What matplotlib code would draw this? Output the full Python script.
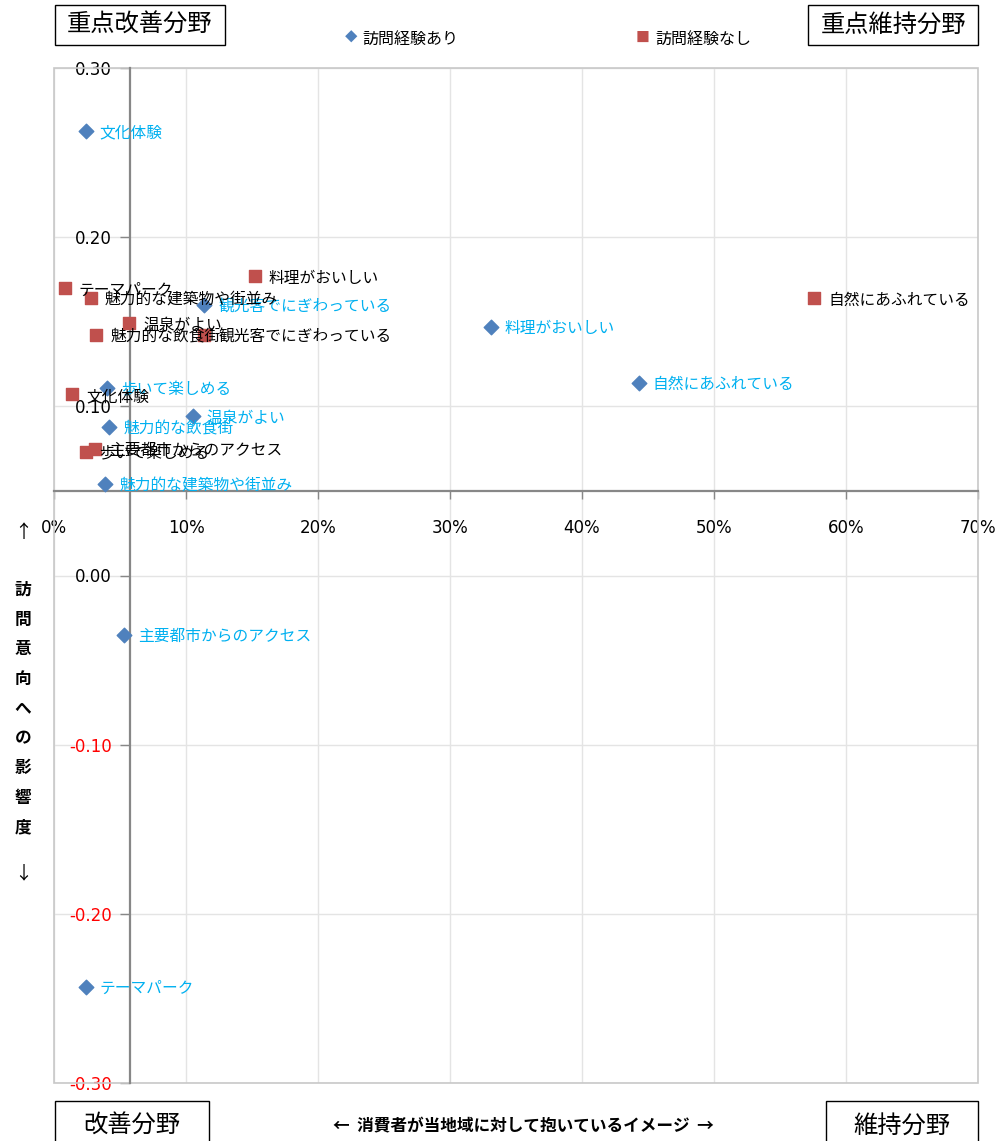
import matplotlib
matplotlib.use("Agg")
import matplotlib.pyplot as plt
from matplotlib.patches import Rectangle
from matplotlib.ticker import FuncFormatter, MultipleLocator

plt.rcParams["font.family"] = ["Noto Sans CJK JP", "DejaVu Sans"]

# ── データ ──
labels_visit = ["文化体験", "観光客でにぎわっている", "料理がおいしい", "自然にあふれている",
                "歩いて楽しめる", "温泉がよい", "魅力的な飲食街", "魅力的な建築物や街並み",
                "主要都市からのアクセス", "テーマパーク"]
x_visit = [0.024, 0.114, 0.331, 0.443, 0.040, 0.105, 0.042, 0.039, 0.053, 0.024]
y_visit = [0.263, 0.160, 0.147, 0.114, 0.111, 0.094, 0.088, 0.054, -0.035, -0.243]

labels_novisit = ["テーマパーク", "魅力的な建築物や街並み", "料理がおいしい", "自然にあふれている",
                  "温泉がよい", "魅力的な飲食街", "観光客でにぎわっている", "文化体験",
                  "歩いて楽しめる", "主要都市からのアクセス"]
x_novisit = [0.008, 0.028, 0.152, 0.576, 0.057, 0.032, 0.114, 0.014, 0.024, 0.031]
y_novisit = [0.170, 0.164, 0.177, 0.164, 0.149, 0.142, 0.142, 0.107, 0.073, 0.075]

series_names = ["訪問経験あり", "訪問経験なし"]
x_cross = 0.0576   # 縦軸の交差位置
y_cross = 0.05     # 横軸の交差位置

BLUE = "#4F81BD"; RED = "#C0504D"; LBLUE = "#00B0F0"

W, H = 1002, 1141
fig = plt.figure(figsize=(W/100, H/100), dpi=100)
ax = fig.add_axes([54/W, 1-1083/H, (978-54)/W, (1083-68)/H])
ax.set_xlim(0, 0.7); ax.set_ylim(-0.3, 0.3)

ax.xaxis.set_major_locator(MultipleLocator(0.1))
ax.yaxis.set_major_locator(MultipleLocator(0.1))
ax.grid(color="#e4e4e4", lw=1.0, zorder=0)
ax.set_axisbelow(True)

# 外枠(薄灰) + 交差軸
ax.add_patch(Rectangle((0, 0), 1, 1, transform=ax.transAxes, fill=False,
                       ec="#c8c8c8", lw=1.2, zorder=1, clip_on=False))
ax.spines["top"].set_visible(False); ax.spines["right"].set_visible(False)
ax.spines["left"].set_position(("data", x_cross))
ax.spines["bottom"].set_position(("data", y_cross))
for s in ("left", "bottom"):
    ax.spines[s].set_color("#878787"); ax.spines[s].set_linewidth(1.6); ax.spines[s].set_zorder(2)

ax.xaxis.set_major_formatter(FuncFormatter(lambda v, p: f"{v*100:.0f}%"))
ax.yaxis.set_major_formatter(FuncFormatter(lambda v, p: f"{v:.2f}" if abs(v) > 1e-9 else "0.00"))
ax.tick_params(axis="x", length=6, width=1, color="#878787", pad=14, labelsize=12)
ax.tick_params(axis="y", length=7, width=1, color="#878787", pad=6, labelsize=12)
for t in ax.get_xticklabels() + ax.get_yticklabels():
    t.set_fontfamily("DejaVu Sans")

ax.scatter(x_visit, y_visit, marker="D", s=55, color=BLUE, zorder=4, clip_on=False)
ax.scatter(x_novisit, y_novisit, marker="s", s=75, color=RED, zorder=4, clip_on=False)

for lab, xv, yv in zip(labels_visit, x_visit, y_visit):
    ax.annotate(lab, (xv, yv), xytext=(10, -1.5), textcoords="offset points",
                va="center", ha="left", fontsize=11.3, color=LBLUE, zorder=5)
for lab, xv, yv in zip(labels_novisit, x_novisit, y_novisit):
    ax.annotate(lab, (xv, yv), xytext=(10, -1.5), textcoords="offset points",
                va="center", ha="left", fontsize=11.3, color="black", zorder=5)

fig.canvas.draw()
for t, v in zip(ax.get_yticklabels(), ax.get_yticks()):
    t.set_color("red" if v < -1e-9 else "black")
    t.set_fontfamily("DejaVu Sans")
for t in ax.get_xticklabels():
    t.set_fontfamily("DejaVu Sans")

# ── 象限ボックス ──
def box(x0, y0, x1, y1, text):
    fig.patches.append(Rectangle((x0/W, 1-y1/H), (x1-x0)/W, (y1-y0)/H, transform=fig.transFigure,
                                 fill=True, fc="white", ec="black", lw=1.0))
    fig.text((x0+x1)/2/W, 1-((y0+y1)/2)/H, text, ha="center", va="center", fontsize=17.5)

box(55, 5, 225, 45, "重点改善分野")
box(808, 5, 978, 45, "重点維持分野")
box(55, 1101, 209, 1150, "改善分野")
box(826, 1101, 978, 1150, "維持分野")

# ── 凡例 ──
fig.text(351/W, 1-38/H, "◆", color=BLUE, ha="center", va="center", fontsize=9)
fig.text(362/W, 1-39/H, series_names[0], ha="left", va="center", fontsize=11.5)
fig.text(643/W, 1-38/H, "■", color=RED, ha="center", va="center", fontsize=10)
fig.text(655/W, 1-39/H, series_names[1], ha="left", va="center", fontsize=11.5)

# ── 軸ラベル ──
fig.text(23/W, 1-533/H, "↑", ha="center", va="center", fontsize=13)
for i, ch in enumerate("訪問意向への影響度"):
    fig.text(23/W, 1-(590+i*29.7)/H, ch, ha="center", va="center", fontsize=12, fontweight="bold")
fig.text(23/W, 1-873/H, "↓", ha="center", va="center", fontsize=13)
fig.text(523/W, 1-1126/H, "←  消費者が当地域に対して抱いているイメージ  →",
         ha="center", va="center", fontsize=12, fontweight="bold")

fig.savefig("out.png", dpi=100)
